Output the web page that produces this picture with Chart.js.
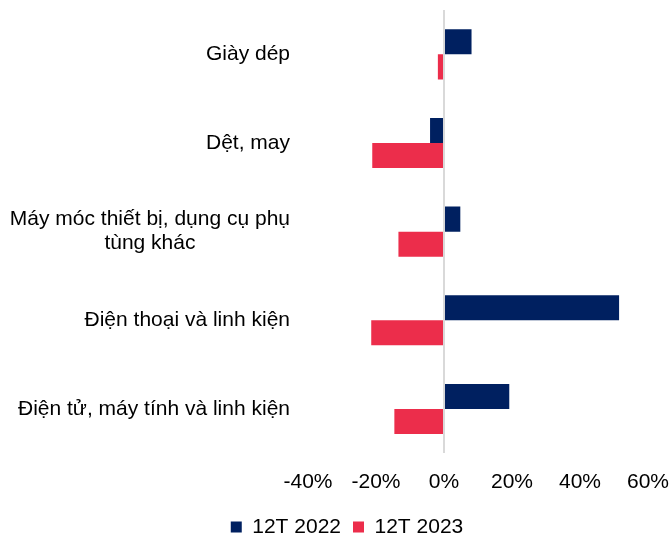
<!DOCTYPE html>
<html>
<head>
<meta charset="utf-8">
<script src="https://cdn.jsdelivr.net/npm/chart.js@4.4.0/dist/chart.umd.min.js"></script>
<style>
  html, body { margin: 0; padding: 0; background: #fff; }
  #wrap { width: 670px; height: 538px; }
</style>
</head>
<body>
<div id="wrap"><canvas id="grafico"></canvas></div>
<script>
const nhom = [
  ["Giày dép"],
  ["Dệt, may"],
  ["Máy móc thiết bị, dụng cụ phụ", "tùng khác"],
  ["Điện thoại và linh kiện"],
  ["Điện tử, máy tính và linh kiện"]
];
const tenChuoi = ["12T 2022", "12T 2023"];
const giaTri2022 = [8.1, -4.1, 4.8, 51.5, 19.2];
const giaTri2023 = [-1.8, -21.1, -13.4, -21.4, -14.6];
const mocTruc = [-40, -20, 0, 20, 40, 60];

const mauXanh = "#002060";
const mauDo = "#ec2d4b";
const font = "'Liberation Sans', Arial, sans-serif";

// nhãn trục y vẽ tay để dòng thứ hai được căn giữa như ảnh gốc
const nhanTrucY = {
  id: "nhanTrucY",
  afterDraw(chart) {
    const ctx = chart.ctx;
    const y = chart.scales.y;
    ctx.save();
    ctx.font = "21px " + font;
    ctx.fillStyle = "#000";
    ctx.textAlign = "center";
    ctx.textBaseline = "middle";
    const phai = y.right - 18;
    nhom.forEach((dong, i) => {
      const rong = Math.max(...dong.map(t => ctx.measureText(t).width));
      const cx = phai - rong / 2;
      const cy = y.getPixelForValue(i);
      const lh = 24;
      dong.forEach((t, k) => {
        ctx.fillText(t, cx, cy + (k - (dong.length - 1) / 2) * lh);
      });
    });
    ctx.restore();
  }
};

// dời chú thích cho khớp ảnh gốc
const doiChuThich = {
  id: "doiChuThich",
  afterLayout(chart) {
    const lg = chart.legend;
    lg.left += 12;
    lg.right += 12;
    lg.top += 9;
    lg.bottom += 9;
  }
};

new Chart(document.getElementById("grafico"), {
  type: "bar",
  data: {
    labels: nhom.map(d => d.join(" ")),
    datasets: [
      { label: tenChuoi[0], data: giaTri2022, backgroundColor: mauXanh },
      { label: tenChuoi[1], data: giaTri2023, backgroundColor: mauDo }
    ]
  },
  options: {
    indexAxis: "y",
    responsive: true,
    maintainAspectRatio: false,
    animation: false,
    layout: { padding: { top: 10, right: 0, left: 0, bottom: -0.5 } },
    datasets: { bar: { categoryPercentage: 0.565, barPercentage: 1 } },
    plugins: {
      legend: {
        position: "bottom",
        labels: {
          font: { size: 21, family: font },
          color: "#000",
          boxWidth: 11,
          boxHeight: 11,
          padding: 12
        }
      },
      tooltip: { enabled: false }
    },
    scales: {
      x: {
        min: mocTruc[0],
        max: mocTruc[mocTruc.length - 1],
        afterBuildTicks: s => { s.ticks = mocTruc.map(v => ({ value: v })); },
        ticks: {
          callback: v => v + "%",
          font: { size: 21, family: font },
          color: "#000",
          padding: 1,
          maxRotation: 0
        },
        grid: {
          drawTicks: true,
          tickLength: 15,
          tickColor: "rgba(0,0,0,0)",
          color: c => (c.tick && c.tick.value === 0 ? "#d9d9d9" : "rgba(0,0,0,0)"),
          lineWidth: 2
        },
        border: { display: false }
      },
      y: {
        ticks: { display: false },
        grid: { display: false },
        border: { display: false },
        afterFit: s => { s.width = 308; }
      }
    }
  },
  plugins: [nhanTrucY, doiChuThich]
});
</script>
</body>
</html>
